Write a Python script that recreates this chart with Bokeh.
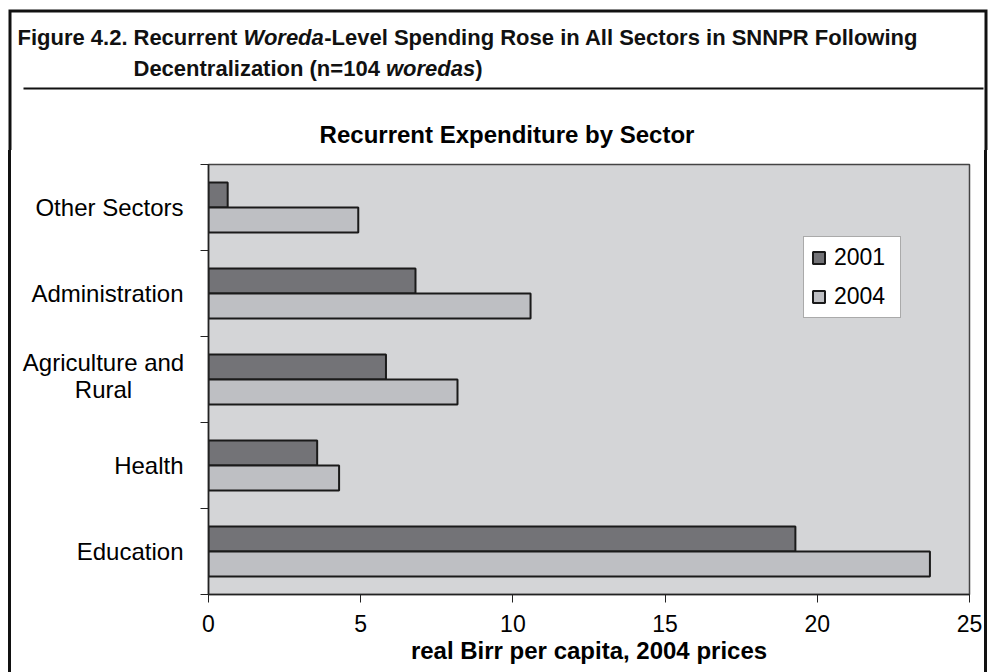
from bokeh.plotting import figure
from bokeh.models import Range1d, FixedTicker, Legend, LegendItem, ColumnDataSource, Spacer
from bokeh.layouts import column, row
from bokeh.core.properties import value
from bokeh.embed import file_html
from bokeh.resources import INLINE

# ---------------- data ----------------
categories = ["Education", "Health", "Agriculture and\nRural", "Administration", "Other Sectors"]
spend_2001 = [19.28, 3.57, 5.83, 6.80, 0.63]
spend_2004 = [23.70, 4.29, 8.18, 10.58, 4.92]
series_names = ["2001", "2004"]
x_ticks = [0, 5, 10, 15, 20, 25]

fig_number = "Figure 4.2."
header_line_1 = [("Recurrent ", "bold"), ("Woreda", "bold italic"),
                 ("-Level Spending Rose in All Sectors in SNNPR Following", "bold")]
header_line_2 = [("Decentralization (n=104 ", "bold"), ("woredas", "bold italic"), (")", "bold")]
chart_title = "Recurrent Expenditure by Sector"
x_label = "real Birr per capita, 2004 prices"

# ---------------- styling / layout constants (page pixels) ----------------
FONT = "Liberation Sans"
HSIZE = 22
DARK = "#737377"
LIGHT = "#bebfc3"
BG = "#d4d5d7"
INK = "#111111"

W, H = 989, 672
HEAD_H = 150                       # header strip height
FL, FR, FT, FB = 208, 969, 164, 594  # plot frame
LB_X, LB_W = 8, 3                  # left outer border (page x, width)
RB_X, RB_W = 984, 3                # right outer border
LEFT_END = 190                     # category-name strip ends here
BORDER_T = 10.5

n = len(categories)
centers = [i + 0.5 for i in range(n)]
bar_h = 0.29
body_h = H - HEAD_H

# ---------------- header figure ----------------
hdr = figure(width=W, height=HEAD_H, x_range=Range1d(0, W), y_range=Range1d(HEAD_H, 0),
             output_backend="svg", toolbar_location=None,
             x_axis_location=None, y_axis_location=None,
             min_border=0, min_border_left=0, min_border_right=0, min_border_top=0, min_border_bottom=0)
hdr.grid.visible = False
hdr.outline_line_color = None
hdr.background_fill_color = "white"
hdr.border_fill_color = "white"

lbx = LB_X + LB_W / 2
rbx = RB_X + RB_W / 2
hdr.line(x=[lbx, lbx, rbx, rbx], y=[HEAD_H + 2, BORDER_T, BORDER_T, HEAD_H + 2],
         line_color=INK, line_width=3, line_join="miter")
hdr.line(x=[23, 983], y=[88, 88], line_color=INK, line_width=2)

ARIAL_BOLD = {
    ' ': 278, '(': 333, ')': 333, '-': 333, '=': 584, '.': 278,
    '0': 556, '1': 556, '2': 556, '4': 556,
    'A': 722, 'D': 722, 'F': 611, 'L': 611, 'N': 722, 'P': 667, 'R': 722, 'S': 667, 'W': 944,
    'a': 556, 'c': 556, 'd': 611, 'e': 556, 'g': 611, 'i': 278, 'l': 278, 'n': 611, 'o': 611,
    'p': 611, 'r': 389, 's': 556, 't': 333, 'u': 611, 'v': 556, 'w': 778, 'z': 500,
}


def text_w(s):
    return sum(ARIAL_BOLD.get(ch, 556) for ch in s) / 1000 * HSIZE


pieces = {"bold": dict(x=[17], y=[36.5], text=[fig_number]), "bold italic": dict(x=[], y=[], text=[])}
for parts, mid in ((header_line_1, 36.5), (header_line_2, 68)):
    xpos = 133
    for txt, style in parts:
        pieces[style]["x"].append(xpos)
        pieces[style]["y"].append(mid)
        pieces[style]["text"].append(txt)
        xpos += text_w(txt)
for style, d in pieces.items():
    hdr.text(x="x", y="y", text="text", source=ColumnDataSource(d),
             text_font=value(FONT), text_font_style=value(style), text_font_size=value(f"{HSIZE}px"),
             text_baseline="middle", text_align="left", text_color=INK)

hdr.text(x=[506.5], y=[133.5], text=[chart_title], text_font=value(FONT), text_font_style=value("bold"),
         text_font_size=value("24px"), text_baseline="middle", text_align="center", text_color="black")

# ---------------- main chart ----------------
src1 = ColumnDataSource(dict(y=[c + bar_h / 2 for c in centers], v=spend_2001))
src2 = ColumnDataSource(dict(y=[c - bar_h / 2 for c in centers], v=spend_2004))

main_w = RB_X - LEFT_END
p = figure(width=main_w, height=body_h, x_range=Range1d(0, 25), y_range=Range1d(0, n),
           output_backend="svg", toolbar_location=None,
           min_border_left=FL - LEFT_END, min_border_right=RB_X - FR,
           min_border_top=FT - HEAD_H, min_border_bottom=H - FB)
p.background_fill_color = BG
p.border_fill_color = "white"
p.outline_line_color = "#444444"
p.outline_line_width = 1.5
p.grid.visible = False

r1 = p.hbar(y="y", right="v", left=0, height=bar_h, source=src1,
            fill_color=DARK, line_color="#1a1a1a", line_width=2)
r2 = p.hbar(y="y", right="v", left=0, height=bar_h, source=src2,
            fill_color=LIGHT, line_color="#1a1a1a", line_width=2)

xa = p.xaxis[0]
xa.ticker = FixedTicker(ticks=x_ticks)
xa.major_label_text_font = FONT
xa.major_label_text_font_size = "23px"
xa.major_label_text_color = "black"
xa.major_label_standoff = 12
xa.major_tick_out = 8
xa.major_tick_in = 0
xa.minor_tick_out = 0
xa.minor_tick_in = 0
xa.major_tick_line_color = "#222222"
xa.axis_line_color = "#222222"
xa.axis_line_width = 1.5
xa.axis_label = x_label
xa.axis_label_text_font = FONT
xa.axis_label_text_font_style = "bold"
xa.axis_label_text_font_size = "24px"
xa.axis_label_text_color = "black"
xa.axis_label_standoff = 2

ya = p.yaxis[0]
ya.ticker = FixedTicker(ticks=[], minor_ticks=list(range(n + 1)))
ya.major_tick_out = 0
ya.major_tick_in = 0
ya.minor_tick_out = 8
ya.minor_tick_in = 0
ya.minor_tick_line_color = "#222222"
ya.axis_line_color = "#222222"
ya.axis_line_width = 1.5
ya.major_label_standoff = 0

legend = Legend(items=[LegendItem(label=series_names[0], renderers=[r1]),
                       LegendItem(label=series_names[1], renderers=[r2])],
                location=(803 - FL, FB - 318))
legend.border_line_color = "#555555"
legend.border_line_width = 1.5
legend.background_fill_color = "white"
legend.background_fill_alpha = 1
legend.label_text_font = FONT
legend.label_text_font_size = "23px"
legend.label_text_color = "black"
legend.glyph_width = 15
legend.glyph_height = 15
legend.label_height = 25
legend.label_width = 59
legend.label_standoff = 8
legend.padding = 7
legend.spacing = 12
legend.margin = 0
p.add_layout(legend)

# ---------------- category-name strip (shares the chart's y scale) ----------------
strip_l = LB_X + LB_W
left = figure(width=LEFT_END - strip_l, height=body_h, x_range=Range1d(strip_l, LEFT_END), y_range=p.y_range,
              output_backend="svg", toolbar_location=None,
              x_axis_location=None, y_axis_location=None,
              min_border=0, min_border_left=0, min_border_right=0,
              min_border_top=FT - HEAD_H, min_border_bottom=H - FB)
left.grid.visible = False
left.outline_line_color = None
left.border_fill_color = "white"
left.background_fill_color = "white"

single = [(c, name) for c, name in zip(centers, categories) if "\n" not in name]
multi = [(c, name) for c, name in zip(centers, categories) if "\n" in name]
left.text(x=[183] * len(single), y=[c for c, _ in single], text=[t for _, t in single],
          text_font=value(FONT), text_font_size=value("24px"), text_align="right",
          text_baseline="middle", text_color="black")
left.text(x=[103] * len(multi), y=[c + 0.035 for c, _ in multi], text=[t for _, t in multi],
          text_font=value(FONT), text_font_size=value("24px"), text_align="center",
          text_baseline="middle", text_color="black", text_line_height=1.0)

# ---------------- outer frame sides ----------------
lborder = Spacer(width=LB_W, height=body_h, styles={"background-color": INK})
rborder = Spacer(width=RB_W, height=body_h, styles={"background-color": INK})

body = row(Spacer(width=LB_X, height=body_h), lborder, left, p, rborder,
           Spacer(width=W - RB_X - RB_W, height=body_h), spacing=0)
layout = column(hdr, body, spacing=0)
open("out.html", "w").write(file_html(layout, INLINE))
